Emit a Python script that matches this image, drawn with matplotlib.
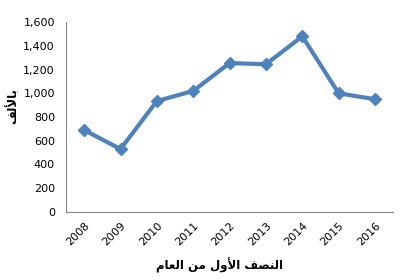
import matplotlib
matplotlib.use("Agg")
import matplotlib.pyplot as plt
from matplotlib.ticker import FuncFormatter

years = ["2008", "2009", "2010", "2011", "2012", "2013", "2014", "2015", "2016"]
values = [690, 530, 935, 1020, 1255, 1245, 1480, 1000, 950]
y_ticks = [0, 200, 400, 600, 800, 1000, 1200, 1400, 1600]
x_title = "النصف الأول من العام"
y_title = "بالألف"

# contextual forms: isolated, final, initial, medial (None = does not join left)
FORMS = {
    "ا": ("\uFE8D", "\uFE8E", None, None),
    "أ": ("\uFE83", "\uFE84", None, None),
    "و": ("\uFEED", "\uFEEE", None, None),
    "ب": ("\uFE8F", "\uFE90", "\uFE91", "\uFE92"),
    "ل": ("\uFEDD", "\uFEDE", "\uFEDF", "\uFEE0"),
    "ن": ("\uFEE5", "\uFEE6", "\uFEE7", "\uFEE8"),
    "ص": ("\uFEB9", "\uFEBA", "\uFEBB", "\uFEBC"),
    "ف": ("\uFED1", "\uFED2", "\uFED3", "\uFED4"),
    "م": ("\uFEE1", "\uFEE2", "\uFEE3", "\uFEE4"),
    "ع": ("\uFEC9", "\uFECA", "\uFECB", "\uFECC"),
}
LAM_ALEF = {"ا": ("\uFEFB", "\uFEFC"), "أ": ("\uFEF7", "\uFEF8")}


def shape(text):
    # minimal Arabic shaping + reversal, since matplotlib has no bidi support
    chars = list(text)
    out = []
    i = 0
    prev_joins = False
    while i < len(chars):
        c = chars[i]
        if c not in FORMS:
            out.append(c)
            prev_joins = False
            i += 1
            continue
        if c == "ل" and i + 1 < len(chars) and chars[i + 1] in LAM_ALEF:
            iso, fin = LAM_ALEF[chars[i + 1]]
            out.append(fin if prev_joins else iso)
            prev_joins = False
            i += 2
            continue
        iso, fin, ini, med = FORMS[c]
        nxt = chars[i + 1] if i + 1 < len(chars) else None
        next_joins = ini is not None and nxt in FORMS
        if prev_joins and next_joins:
            out.append(med)
        elif prev_joins:
            out.append(fin)
        elif next_joins:
            out.append(ini)
        else:
            out.append(iso)
        prev_joins = next_joins
        i += 1
    return "".join(reversed(out))


blue = "#4F81BD"
axis_gray = "#868686"

fig = plt.figure(figsize=(4.1, 2.8), dpi=100)
ax = fig.add_axes([0.161, 0.243, 0.798, 0.678])

x = range(len(years))
ax.plot(x, values, color=blue, lw=3, marker="D", ms=6.5, mec=blue, mfc=blue)

ax.set_xlim(-0.5, len(years) - 0.5)
ax.set_ylim(0, 1600)
ax.set_yticks(y_ticks)
ax.yaxis.set_major_formatter(FuncFormatter(lambda v, p: f"{int(v):,}"))
ax.set_xticks(list(x))
ax.set_xticklabels(years, rotation=45, ha="right", rotation_mode="anchor")

for side in ("top", "right"):
    ax.spines[side].set_visible(False)
for side in ("left", "bottom"):
    ax.spines[side].set_color(axis_gray)
ax.tick_params(length=0, labelsize=8, colors="black")
ax.tick_params(axis="y", pad=8)
ax.tick_params(axis="x", pad=6)

ax.set_xlabel(shape(x_title), fontsize=8.5, fontweight="bold", family="DejaVu Sans",
              va="center")
ax.set_ylabel(shape(y_title), fontsize=8.5, fontweight="bold", family="DejaVu Sans",
              va="center")
ax.xaxis.set_label_coords(0.47, -0.279)
ax.yaxis.set_label_coords(-0.165, 0.56)

fig.savefig("out.png", dpi=100)
